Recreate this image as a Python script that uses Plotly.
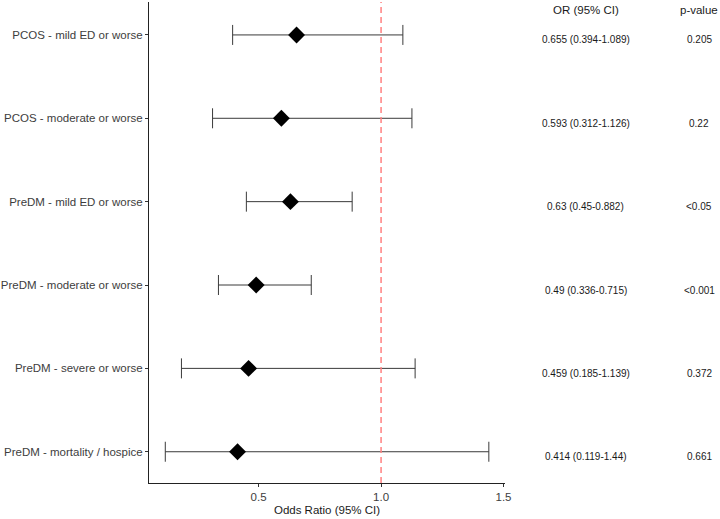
import plotly.graph_objects as go

labels = ["PCOS - mild ED or worse", "PCOS - moderate or worse", "PreDM - mild ED or worse",
          "PreDM - moderate or worse", "PreDM - severe or worse", "PreDM - mortality / hospice"]
odds = [0.655, 0.593, 0.63, 0.49, 0.459, 0.414]
lower = [0.394, 0.312, 0.45, 0.336, 0.185, 0.119]
upper = [1.089, 1.126, 0.882, 0.715, 1.139, 1.44]
ci_text = ["0.655 (0.394-1.089)", "0.593 (0.312-1.126)", "0.63 (0.45-0.882)",
           "0.49 (0.336-0.715)", "0.459 (0.185-1.139)", "0.414 (0.119-1.44)"]
p_text = ["0.205", "0.22", "<0.05", "<0.001", "0.372", "0.661"]
x_ticks = [0.5, 1.0, 1.5]
ref_line = 1.0

FONT = "Liberation Sans, Arial, sans-serif"

fig = go.Figure()
fig.add_trace(go.Scatter(
    x=odds, y=labels, mode="markers",
    marker=dict(symbol="diamond", size=13, color="black"),
    error_x=dict(type="data", symmetric=False,
                 array=[u - o for u, o in zip(upper, odds)],
                 arrayminus=[o - l for o, l in zip(odds, lower)],
                 width=10, thickness=1, color="#3a3a3a"),
    showlegend=False, hoverinfo="skip",
))

fig.add_shape(type="line", x0=ref_line, x1=ref_line, xref="x", y0=0, y1=1, yref="paper",
              line=dict(color="#ff8080", width=1.5, dash="6px,4px"), layer="above")

ann = []
ann.append(dict(text="OR (95% CI)", x=1.2275, y=0.984, xref="paper", yref="paper",
                xanchor="center", yanchor="middle",
                showarrow=False, font=dict(size=11.5, color="#1a1a1a", family=FONT)))
ann.append(dict(text="p-value", x=1.545, y=0.984, xref="paper", yref="paper",
                xanchor="center", yanchor="middle",
                showarrow=False, font=dict(size=11.5, color="#1a1a1a", family=FONT)))
for i, (c, p) in enumerate(zip(ci_text, p_text)):
    ann.append(dict(text=c, x=1.2275, y=labels[i], xref="paper", yref="y", yshift=-5,
                    xanchor="center", yanchor="middle",
                    showarrow=False, font=dict(size=10, color="#1a1a1a", family=FONT)))
    ann.append(dict(text=p, x=1.545, y=labels[i], xref="paper", yref="y", yshift=-5,
                    xanchor="center", yanchor="middle",
                    showarrow=False, font=dict(size=10, color="#1a1a1a", family=FONT)))

fig.update_layout(
    width=720, height=519,
    margin=dict(l=149, r=215, t=2, b=36, autoexpand=False),
    paper_bgcolor="white", plot_bgcolor="white",
    font=dict(family=FONT, size=11.5, color="#333333"),
    annotations=ann,
    xaxis=dict(range=[0.0525, 1.506], tickvals=x_ticks, ticktext=["0.5", "1.0", "1.5"],
               showgrid=False, zeroline=False, showline=True, linecolor="#222222", linewidth=1,
               ticks="outside", ticklen=3, tickcolor="#333333", tickwidth=1,
               tickfont=dict(size=11.5, color="#3d3d3d"),
               title=dict(text="Odds Ratio (95% CI)", font=dict(size=11.5, color="#1a1a1a"), standoff=4)),
    yaxis=dict(type="category", categoryarray=labels, range=[5.375, -0.395],
               showgrid=False, zeroline=False, showline=True, linecolor="#222222", linewidth=1,
               ticks="outside", ticklen=3, tickcolor="#333333", tickwidth=1,
               tickfont=dict(size=11.5, color="#3d3d3d")),
)

fig.write_html("out.html", config={"displayModeBar": False},
               post_script="document.body.style.margin='0';document.body.style.padding='0';")
